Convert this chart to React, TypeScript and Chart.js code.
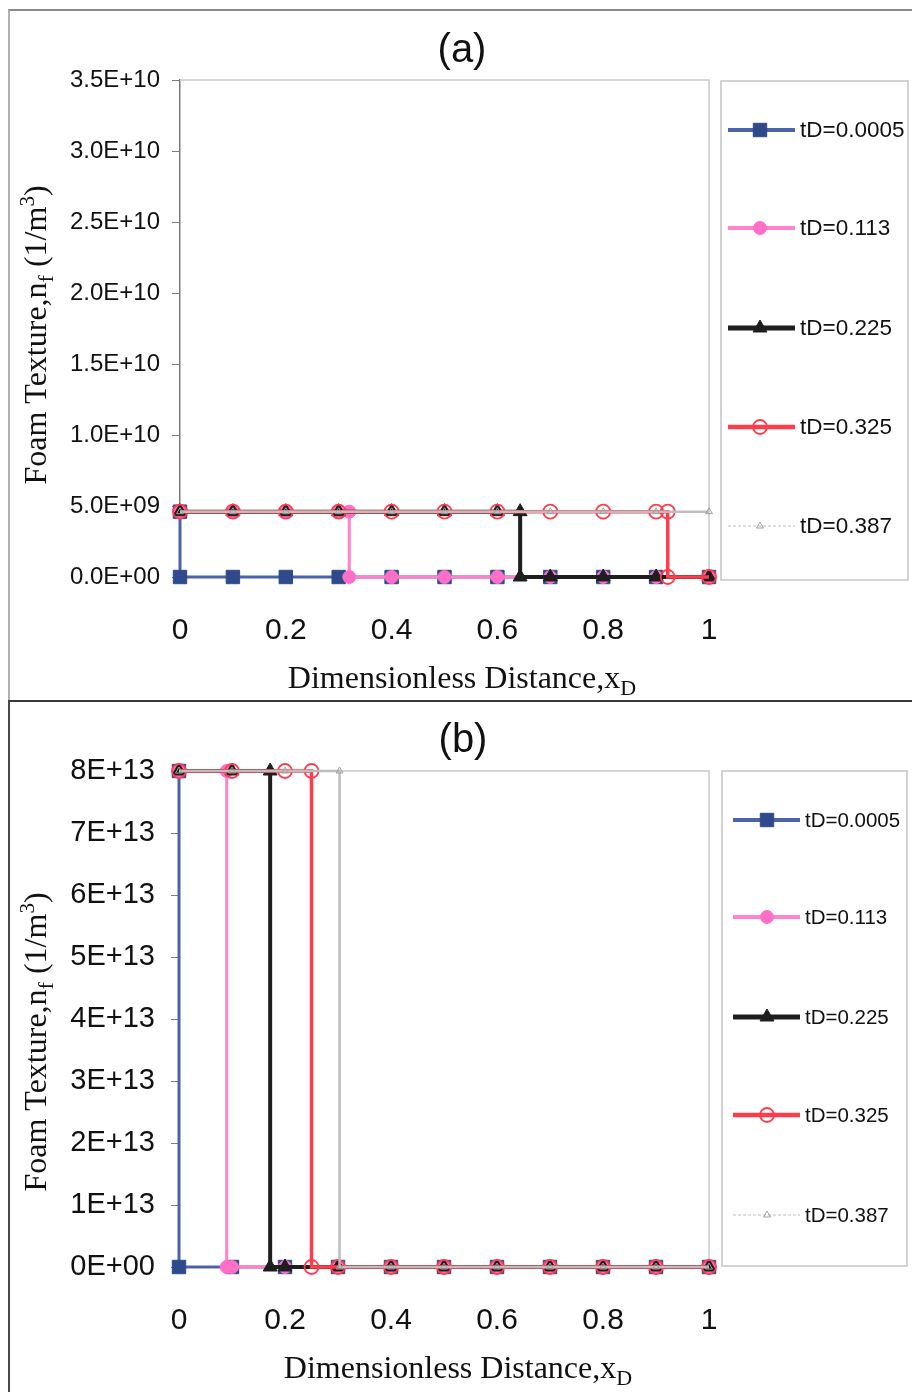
import React, { useEffect, useRef } from "react";
import { Chart, registerables } from "chart.js";

Chart.register(...registerables);

const SANS = '"Liberation Sans", Arial, sans-serif';
const SERIF = '"Liberation Serif", "Times New Roman", serif';

// ---- data ----
const seriesLabels = ["tD=0.0005", "tD=0.113", "tD=0.225", "tD=0.325", "tD=0.387"];
const xTickLabels = ["0", "0.2", "0.4", "0.6", "0.8", "1"];
const yTickLabelsA = ["0.0E+00", "5.0E+09", "1.0E+10", "1.5E+10", "2.0E+10", "2.5E+10", "3.0E+10", "3.5E+10"];
const yTickLabelsB = ["0E+00", "1E+13", "2E+13", "3E+13", "4E+13", "5E+13", "6E+13", "7E+13", "8E+13"];

// panel (a)
const aX0005 = [0, 0, 0.1, 0.2, 0.3, 0.4, 0.5, 0.6, 0.7, 0.8, 0.9, 1];
const aY0005 = [4.6e9, 0, 0, 0, 0, 0, 0, 0, 0, 0, 0, 0];
const aX113 = [0, 0.1, 0.2, 0.3, 0.32, 0.32, 0.4, 0.5, 0.6, 0.7, 0.8, 0.9, 1];
const aY113 = [4.6e9, 4.6e9, 4.6e9, 4.6e9, 4.6e9, 0, 0, 0, 0, 0, 0, 0, 0];
const aX225 = [0, 0.1, 0.2, 0.3, 0.4, 0.5, 0.6, 0.643, 0.643, 0.7, 0.8, 0.9, 1];
const aY225 = [4.6e9, 4.6e9, 4.6e9, 4.6e9, 4.6e9, 4.6e9, 4.6e9, 4.6e9, 0, 0, 0, 0, 0];
const aX325 = [0, 0.1, 0.2, 0.3, 0.4, 0.5, 0.6, 0.7, 0.8, 0.9, 0.922, 0.922, 1];
const aY325 = [4.6e9, 4.6e9, 4.6e9, 4.6e9, 4.6e9, 4.6e9, 4.6e9, 4.6e9, 4.6e9, 4.6e9, 4.6e9, 0, 0];
const aX387 = [0, 0.1, 0.2, 0.3, 0.4, 0.5, 0.6, 0.7, 0.8, 0.9, 1];
const aY387 = [4.6e9, 4.6e9, 4.6e9, 4.6e9, 4.6e9, 4.6e9, 4.6e9, 4.6e9, 4.6e9, 4.6e9, 4.6e9];

// panel (b)
const bX0005 = [0, 0, 0.1, 0.2, 0.3, 0.4, 0.5, 0.6, 0.7, 0.8, 0.9, 1];
const bY0005 = [8e13, 0, 0, 0, 0, 0, 0, 0, 0, 0, 0, 0];
const bX113 = [0, 0.09, 0.09, 0.1, 0.2, 0.3, 0.4, 0.5, 0.6, 0.7, 0.8, 0.9, 1];
const bY113 = [8e13, 8e13, 0, 0, 0, 0, 0, 0, 0, 0, 0, 0, 0];
const bX225 = [0, 0.1, 0.172, 0.172, 0.2, 0.3, 0.4, 0.5, 0.6, 0.7, 0.8, 0.9, 1];
const bY225 = [8e13, 8e13, 8e13, 0, 0, 0, 0, 0, 0, 0, 0, 0, 0];
const bX325 = [0, 0.1, 0.2, 0.25, 0.25, 0.3, 0.4, 0.5, 0.6, 0.7, 0.8, 0.9, 1];
const bY325 = [8e13, 8e13, 8e13, 8e13, 0, 0, 0, 0, 0, 0, 0, 0, 0];
const bX387 = [0, 0.1, 0.2, 0.303, 0.303, 0.4, 0.5, 0.6, 0.7, 0.8, 0.9, 1];
const bY387 = [8e13, 8e13, 8e13, 8e13, 0, 0, 0, 0, 0, 0, 0, 0];

// ---- series styling ----
type Style = {
  line: string; width: number; shape: string; radius: number;
  fill: string; stroke: string; pw: number; dash?: number[];
};
const styles: Style[] = [
  { line: "#4b64a9", width: 3, shape: "rect", radius: 9.5, fill: "#2f4a8c", stroke: "#2f4a8c", pw: 1 },
  { line: "#ff82cf", width: 3, shape: "circle", radius: 6.5, fill: "#ff6fc7", stroke: "#ff6fc7", pw: 1 },
  { line: "#1e1e1e", width: 4, shape: "triangle", radius: 8, fill: "#1e1e1e", stroke: "#1e1e1e", pw: 1 },
  { line: "#ff3c4c", width: 3.5, shape: "circle", radius: 7, fill: "rgba(0,0,0,0)", stroke: "#ff3c4c", pw: 1.8 },
  { line: "#bdbdbd", width: 2.5, shape: "triangle", radius: 4, fill: "rgba(0,0,0,0)", stroke: "#a0a0a0", pw: 1, dash: [3, 2] },
];

function makeDatasets(xs: number[][], ys: number[][]) {
  return xs.map((xArr, i) => ({
    label: seriesLabels[i],
    data: xArr.map((x, j) => ({ x, y: ys[i][j] })),
    showLine: true,
    fill: false,
    borderColor: styles[i].line,
    borderWidth: styles[i].width,
    pointStyle: styles[i].shape,
    pointRadius: styles[i].radius,
    pointBackgroundColor: styles[i].fill,
    pointBorderColor: styles[i].stroke,
    pointBorderWidth: styles[i].pw,
    order: 5 - i,
    clip: 14,
  }));
}

type Part = { t: string; size: number; dy: number };

function drawParts(ctx: CanvasRenderingContext2D, parts: Part[], cx: number, baseY: number) {
  let total = 0;
  parts.forEach((p) => {
    ctx.font = `${p.size}px ${SERIF}`;
    total += ctx.measureText(p.t).width;
  });
  let x = cx - total / 2;
  ctx.textAlign = "left";
  ctx.textBaseline = "alphabetic";
  parts.forEach((p) => {
    ctx.font = `${p.size}px ${SERIF}`;
    ctx.fillText(p.t, x, baseY + p.dy);
    x += ctx.measureText(p.t).width;
  });
}

function drawMarker(ctx: CanvasRenderingContext2D, s: Style, x: number, y: number) {
  ctx.save();
  ctx.fillStyle = s.fill;
  ctx.strokeStyle = s.stroke;
  ctx.lineWidth = s.pw;
  ctx.beginPath();
  const r = s.radius;
  if (s.shape === "rect") {
    const h = r * Math.SQRT1_2;
    ctx.rect(x - h, y - h, 2 * h, 2 * h);
  } else if (s.shape === "circle") {
    ctx.arc(x, y, r, 0, Math.PI * 2);
  } else {
    ctx.moveTo(x, y - r);
    ctx.lineTo(x + r * 0.87, y + r * 0.5);
    ctx.lineTo(x - r * 0.87, y + r * 0.5);
    ctx.closePath();
  }
  ctx.fill();
  ctx.stroke();
  ctx.restore();
}

type Decor = {
  title: string; titleX: number; titleY: number;
  xTitleX: number; xTitleBase: number;
  yTitleX: number; yTitleY: number;
  box: [number, number, number, number];
  legendYs: number[]; sampleL: number; sampleR: number; markerX: number; textX: number;
  legendFont: number;
};

function decorPlugin(d: Decor) {
  return {
    id: "decor",
    beforeDatasetsDraw(chart: any) {
      const { ctx, chartArea: a } = chart;
      ctx.save();
      ctx.strokeStyle = "#c9c9c9";
      ctx.lineWidth = 1.5;
      ctx.beginPath();
      ctx.moveTo(a.left, a.top);
      ctx.lineTo(a.right, a.top);
      ctx.lineTo(a.right, a.bottom);
      ctx.stroke();
      ctx.restore();
    },
    afterDraw(chart: any) {
      const ctx: CanvasRenderingContext2D = chart.ctx;
      ctx.save();
      ctx.fillStyle = "#111";
      // panel title
      ctx.font = `40px ${SANS}`;
      ctx.textAlign = "center";
      ctx.textBaseline = "middle";
      ctx.fillText(d.title, d.titleX, d.titleY);
      // x axis title
      drawParts(ctx, [
        { t: "Dimensionless Distance,x", size: 32, dy: 0 },
        { t: "D", size: 22, dy: 7 },
      ], d.xTitleX, d.xTitleBase);
      // y axis title
      ctx.save();
      ctx.translate(d.yTitleX, d.yTitleY);
      ctx.rotate(-Math.PI / 2);
      drawParts(ctx, [
        { t: "Foam Texture,n", size: 32, dy: 0 },
        { t: "f", size: 22, dy: 7 },
        { t: " (1/m", size: 32, dy: 0 },
        { t: "3", size: 21, dy: -12 },
        { t: ")", size: 32, dy: 0 },
      ], 0, 0);
      ctx.restore();
      // legend box
      const [bx, by, bw, bh] = d.box;
      ctx.strokeStyle = "#c4c4c4";
      ctx.lineWidth = 1.5;
      ctx.strokeRect(bx, by, bw, bh);
      d.legendYs.forEach((ly, i) => {
        const s = styles[i];
        ctx.save();
        ctx.strokeStyle = s.line;
        ctx.lineWidth = i === 4 ? 1.2 : s.width + 1;
        if (s.dash) ctx.setLineDash(s.dash);
        ctx.beginPath();
        ctx.moveTo(d.sampleL, ly);
        ctx.lineTo(d.sampleR, ly);
        ctx.stroke();
        ctx.restore();
        drawMarker(ctx, s, d.markerX, ly);
        ctx.fillStyle = "#111";
        ctx.font = `${d.legendFont}px ${SANS}`;
        ctx.textAlign = "left";
        ctx.textBaseline = "middle";
        ctx.fillText(seriesLabels[i], d.textX, ly + 1);
      });
      ctx.restore();
    },
  };
}

function buildConfig(
  datasets: any[], yMax: number, yStep: number, yLabels: string[], yFont: number,
  yPad: number, pad: { top: number; right: number; bottom: number }, yWidth: number, decor: Decor
) {
  return {
    type: "scatter",
    data: { datasets },
    options: {
      animation: false,
      responsive: false,
      events: [],
      layout: { padding: { left: 0, top: pad.top, right: pad.right, bottom: pad.bottom } },
      plugins: { legend: { display: false }, tooltip: { enabled: false }, title: { display: false } },
      scales: {
        x: {
          type: "linear",
          min: 0,
          max: 1,
          grid: { drawOnChartArea: false, drawTicks: true, tickLength: 6, color: "#bcbcbc" },
          border: { display: true, color: "#c2c2c2", width: 1.5 },
          ticks: {
            stepSize: 0.2,
            autoSkip: false,
            maxRotation: 0,
            padding: 30,
            color: "#111",
            font: { family: SANS, size: 30 },
            callback: (_v: any, i: number) => xTickLabels[i],
          },
          afterFit: (s: any) => { s.height = 76; },
        },
        y: {
          min: 0,
          max: yMax,
          grid: { drawOnChartArea: false, drawTicks: true, tickLength: 8, color: "#7a7a7a" },
          border: { display: true, color: "#7a7a7a", width: 1.5 },
          ticks: {
            stepSize: yStep,
            autoSkip: false,
            padding: yPad,
            color: "#111",
            font: { family: SANS, size: yFont },
            callback: (_v: any, i: number) => yLabels[i],
          },
          afterFit: (s: any) => { s.width = yWidth; },
        },
      },
    },
    plugins: [decorPlugin(decor)],
  };
}

function ChartCanvas({ config, top, height }: { config: any; top: number; height: number }) {
  const ref = useRef<HTMLCanvasElement | null>(null);
  useEffect(() => {
    if (!ref.current) return;
    const chart = new Chart(ref.current, config);
    return () => chart.destroy();
  }, [config]);
  return (
    <canvas
      ref={ref}
      width={912}
      height={height}
      style={{ position: "absolute", left: 0, top, width: 912, height }}
    />
  );
}

const configA = buildConfig(
  makeDatasets([aX0005, aX113, aX225, aX325, aX387], [aY0005, aY113, aY225, aY325, aY387]),
  3.5e10, 5e9, yTickLabelsA, 24, 12,
  { top: 80, right: 203, bottom: 47 }, 180,
  {
    title: "(a)", titleX: 462, titleY: 51,
    xTitleX: 462, xTitleBase: 688,
    yTitleX: 46, yTitleY: 335,
    box: [721, 81, 187, 499],
    legendYs: [130, 228, 328, 427, 526],
    sampleL: 728, sampleR: 795, markerX: 760, textX: 800,
    legendFont: 22.5,
  }
);

const configB = buildConfig(
  makeDatasets([bX0005, bX113, bX225, bX325, bX387], [bY0005, bY113, bY225, bY325, bY387]),
  8e13, 1e13, yTickLabelsB, 29, 16,
  { top: 71, right: 203, bottom: 49 }, 179,
  {
    title: "(b)", titleX: 463, titleY: 41,
    xTitleX: 458, xTitleBase: 678,
    yTitleX: 46, yTitleY: 342,
    box: [722, 71, 185, 495],
    legendYs: [120, 217, 317, 415, 515],
    sampleL: 733, sampleR: 800, markerX: 767, textX: 805,
    legendFont: 20.5,
  }
);

export default function App() {
  return (
    <div style={{ position: "fixed", left: 0, top: 0, width: 912, height: 1392, background: "#fff", overflow: "hidden" }}>
      <ChartCanvas config={configA} top={0} height={700} />
      <ChartCanvas config={configB} top={700} height={692} />
      <div style={{ position: "absolute", left: 8, top: 9, width: 920, height: 692, borderTop: "2px solid #8a8a8a", borderLeft: "2px solid #b0b0b0", pointerEvents: "none" }} />
      <div style={{ position: "absolute", left: 8, top: 700, width: 920, height: 700, borderTop: "2px solid #3a3a3a", borderLeft: "2px solid #4a4a4a", pointerEvents: "none" }} />
    </div>
  );
}
